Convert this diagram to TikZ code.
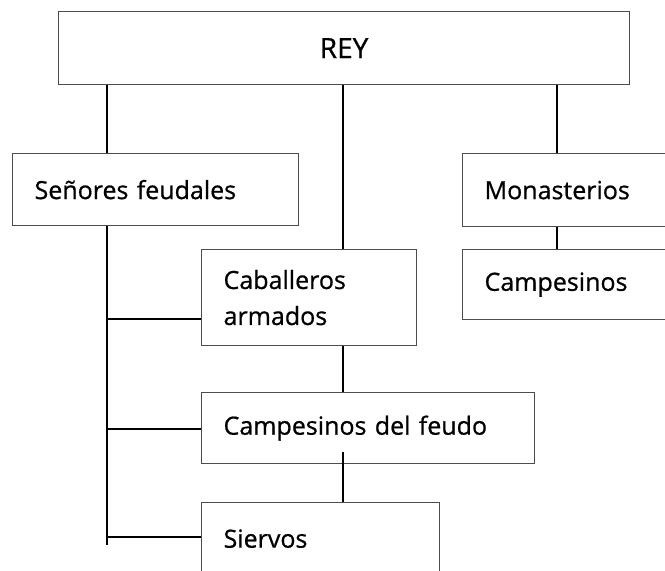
\documentclass[tikz,border=0pt]{standalone}
\usepackage{fontspec}
\setmainfont{Open Sans}[FakeBold=0.7]
\begin{document}
\begin{tikzpicture}[x=1pt,y=-1pt,
  box/.style={draw=black!70, line width=1.2pt, fill=white, anchor=north west,
    inner xsep=22pt, inner ysep=0pt, align=left, font=\fontsize{25}{36}\selectfont},
  conn/.style={draw=black, line width=1.7pt}]
\useasboundingbox (0,0) rectangle (665,571);
% nodes
\node[box, align=center, text width=527pt, minimum height=73pt, font=\fontsize{28}{36}\selectfont] (rey) at (58,11) {REY};
\node[box, text width=242pt, minimum height=72pt] (sen) at (12,153) {Señores feudales};
\node[box, text width=186pt, minimum height=73pt] (mon) at (462,153) {Monasterios};
\node[box, text width=186pt, minimum height=70pt] (camp) at (462,249) {Campesinos};
\node[box, text width=171pt, minimum height=96pt] (cab) at (201,249) {Caballeros\\armados};
\node[box, text width=289pt, minimum height=71pt] (cdf) at (201,392) {Campesinos del feudo};
\node[box, text width=194pt, minimum height=72pt] (sie) at (201,502) {Siervos};
% helper coordinates
\coordinate (cL) at (107,0);
\coordinate (cM) at (343,0);
\coordinate (cR) at (557,0);
\coordinate (trunkend) at (107,545);
\coordinate (s1) at (107,319);
\coordinate (s2) at (107,429);
\coordinate (s3) at (107,537);
\coordinate (midstart) at (343,452);
% connectors
\draw[conn] (rey.south -| cL) -- (sen.north -| cL);
\draw[conn] (rey.south -| cM) -- (cab.north -| cM);
\draw[conn] (rey.south -| cR) -- (mon.north -| cR);
\draw[conn] (mon.south -| cR) -- (camp.north -| cR);
\draw[conn] (sen.south -| cL) -- (trunkend);
\draw[conn] (s1) -- (s1 -| cab.west);
\draw[conn] (s2) -- (s2 -| cdf.west);
\draw[conn] (s3) -- (s3 -| sie.west);
\draw[conn] (cab.south -| cM) -- (cdf.north -| cM);
\draw[conn] (midstart) -- (sie.north -| cM);
\end{tikzpicture}
\end{document}
